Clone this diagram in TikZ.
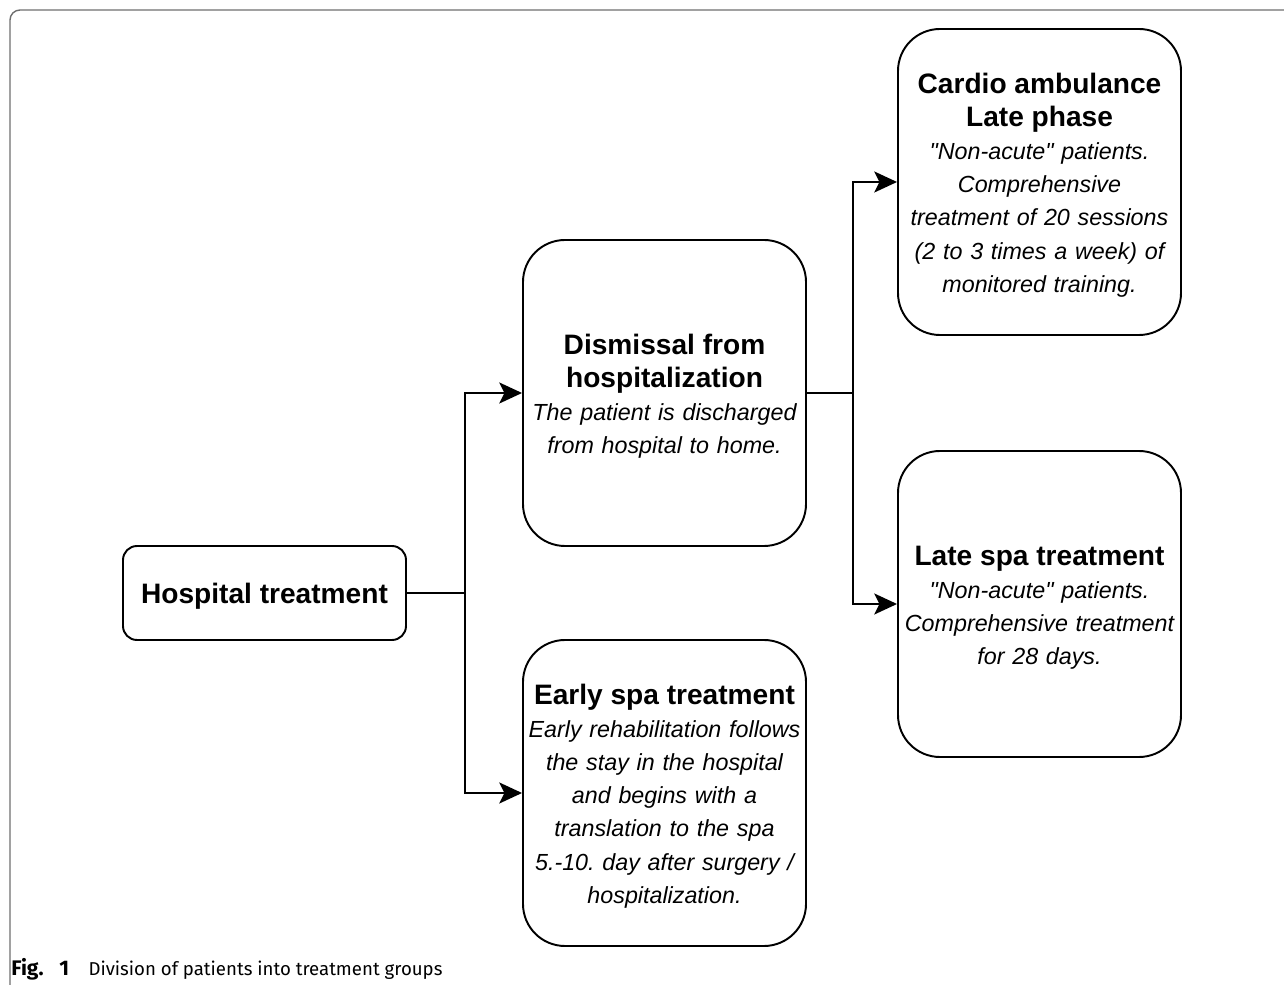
\documentclass[tikz,border=0pt]{standalone}
\usepackage{fontspec}
\setmainfont{Liberation Sans}
\newfontfamily\capfont{Fira Sans}
\usepackage{tikz}
\usetikzlibrary{arrows.meta,positioning}

\definecolor{framegray}{RGB}{110,110,110}
\newcommand{\boxhead}{\fontsize{16}{18.8}\selectfont\bfseries\upshape\rule{0pt}{15.2pt}}
\newcommand{\qt}{\textquotedbl}
\frenchspacing

\begin{document}
\begin{tikzpicture}[
	node distance = 4cm,
	on grid,
	> = {Stealth[length=13pt,width=12pt,inset=3pt]},
	every node/.style = {font=\fontsize{13.25}{18.8}\selectfont\itshape},
	smallbox/.style = {draw, line width=1.1pt, rounded corners=0.28cm,
		minimum width=5.66cm, minimum height=1.88cm, inner sep=0pt},
	bigbox/.style = {draw, line width=1.1pt, rounded corners=0.84cm,
		minimum width=5.66cm, minimum height=6.12cm, inner sep=0.03cm,
		text width=5.6cm, align=center},
	link/.style = {->, line width=1.1pt}
	]
	\useasboundingbox (0,0) rectangle (25.68,-19.7);
	\draw[framegray, line width=0.8pt, rounded corners=0.2cm]
	(0.2,-19.7) -- (0.2,-0.2) -- (25.68,-0.2);

	\node[smallbox] (hosp) at (5.29,-11.86) {\boxhead Hospital treatment};
	\node[bigbox] (dismiss) [above right=4cm and 8cm of hosp]
	{{\boxhead Dismissal from\\hospitalization}\\
		The patient is discharged\\from hospital to home.};
	\node[bigbox] (early) [below right=4cm and 8cm of hosp]
	{{\boxhead Early spa treatment}\\
		Early rehabilitation follows\\the stay in the hospital\\and begins with a\\
		translation to the spa\\5.-10. day after surgery /\\hospitalization.};
	\node[bigbox] (cardio) [above right=4.22cm and 7.5cm of dismiss]
	{{\boxhead Cardio ambulance\\Late phase}\\
		\qt Non-acute\qt{} patients.\\Comprehensive\\treatment of 20 sessions\\
		(2 to 3 times a week) of\\monitored training.};
	\node[bigbox] (late) [below right=4.22cm and 7.5cm of dismiss]
	{{\boxhead Late spa treatment}\\
		\qt Non-acute\qt{} patients.\\Comprehensive treatment\\for 28 days.};

	\coordinate[right=1.16cm of hosp.east] (split1);
	\coordinate[right=0.92cm of dismiss.east] (split2);
	\draw[line width=1.1pt] (hosp.east) -- (split1);
	\draw[link] (split1) |- (dismiss.west);
	\draw[link] (split1) |- (early.west);
	\draw[line width=1.1pt] (dismiss.east) -- (split2);
	\draw[link] (split2) |- (cardio.west);
	\draw[link] (split2) |- (late.west);

	\node[anchor=base west, inner sep=0pt, font=\capfont\fontsize{10.6}{12}\selectfont]
	(caption) at (0.22,-19.52)
	{{\fontsize{12}{12}\selectfont\bfseries Fig.\hspace{9pt}1}\hspace{11pt}Division of patients into treatment groups};
\end{tikzpicture}
\end{document}
